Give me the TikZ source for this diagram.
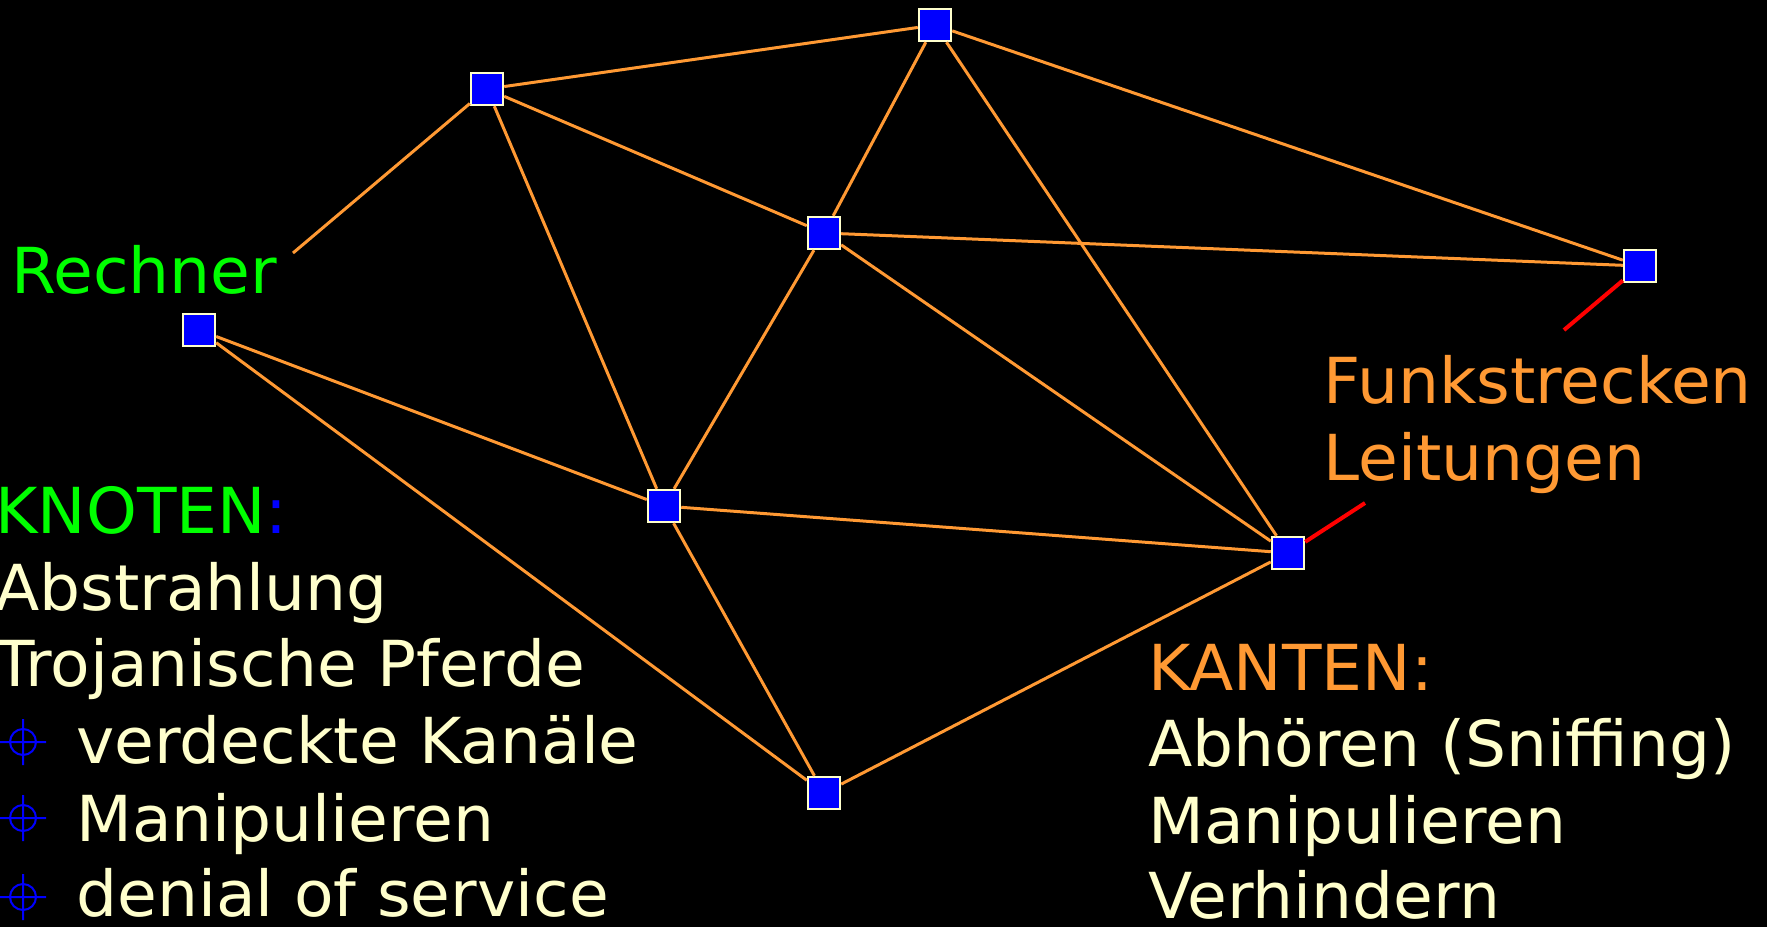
\documentclass[tikz,border=0pt]{standalone}
\usepackage{fontspec}
\setmainfont{DejaVu Sans}[FakeStretch=1.02]
\definecolor{netzorange}{HTML}{FF9933}
\definecolor{hellgelb}{HTML}{FFFFCC}
\definecolor{gruen}{HTML}{00FF00}
\definecolor{blau}{HTML}{0000FF}

\begin{document}
\begin{tikzpicture}[x=0.5pt,y=-0.5pt,
  rechner/.style={draw=hellgelb,fill=blau,line width=1.2pt,minimum size=16pt,inner sep=0pt},
  kante/.style={draw=netzorange,line width=1.5pt},
  zeiger/.style={draw=red,line width=2pt},
  txt/.style={anchor=base west,inner sep=0pt,font=\fontsize{31.7}{38}\selectfont},
  kreuz/.pic={\draw[blau,line width=1pt] (0,0) circle (6.5pt)
    (-11.5pt,0) -- (11.5pt,0) (0,-11.5pt) -- (0,11.5pt);}]
  \fill[black] (0,0) rectangle (1767,927);
  \useasboundingbox (0,0) rectangle (1767,927);

  % Rechner
  \node[rechner] (a) at (487,89) {};
  \node[rechner] (b) at (935,25) {};
  \node[rechner] (c) at (824,233) {};
  \node[rechner] (d) at (1640,266) {};
  \node[rechner] (e) at (199,330) {};
  \node[rechner] (f) at (664,506) {};
  \node[rechner] (g) at (1288,553) {};
  \node[rechner] (h) at (824,793) {};

  % Leitungen
  \coordinate (rende) at (293,253);
  \draw[kante] (a) -- (rende);
  \draw[kante] (a) -- (b);
  \draw[kante] (a) -- (c);
  \draw[kante] (a) -- (f);
  \draw[kante] (b) -- (c);
  \draw[kante] (b) -- (g);
  \draw[kante] (b) -- (d);
  \draw[kante] (c) -- (d);
  \draw[kante] (c) -- (f);
  \draw[kante] (c) -- (g);
  \draw[kante] (e) -- (f);
  \draw[kante] (e) -- (h);
  \draw[kante] (f) -- (g);
  \draw[kante] (f) -- (h);
  \draw[kante] (g) -- (h);

  % Zeiger auf Funkstrecken/Leitungen
  \coordinate (fende) at (1564,330);
  \coordinate (lende) at (1365,503);
  \draw[zeiger] (d) -- (fende);
  \draw[zeiger] (g) -- (lende);

  % Beschriftung
  \node[txt,text=gruen] (rechnertxt) at (11,293) {Rechner};
  \node[txt,text=netzorange] (funk) at (1323,403) {Funkstrecken};
  \node[txt,text=netzorange] (leit) at (1323,480) {Leitungen};

  \node[txt,text=gruen] (knoten) at (-5,533) {KNOTEN{\color{blau}:}};
  \node[txt,text=hellgelb] (k1) at (-5,610) {Abstrahlung};
  \node[txt,text=hellgelb] (k2) at (-5,686) {Trojanische Pferde};
  \node[txt,text=hellgelb] (k3) at (76,763) {verdeckte Kanäle};
  \node[txt,text=hellgelb] (k4) at (76,841) {Manipulieren};
  \node[txt,text=hellgelb] (k5) at (76,916) {denial of service};
  \pic at (23,742) {kreuz};
  \pic at (23,818) {kreuz};
  \pic at (23,897) {kreuz};

  \node[txt,text=netzorange] (kanten) at (1148,690) {KANTEN:};
  \node[txt,text=hellgelb] (e1) at (1148,766) {Abhören (Sniffing)};
  \node[txt,text=hellgelb] (e2) at (1148,843) {Manipulieren};
  \node[txt,text=hellgelb] (e3) at (1148,918) {Verhindern};
\end{tikzpicture}
\end{document}
